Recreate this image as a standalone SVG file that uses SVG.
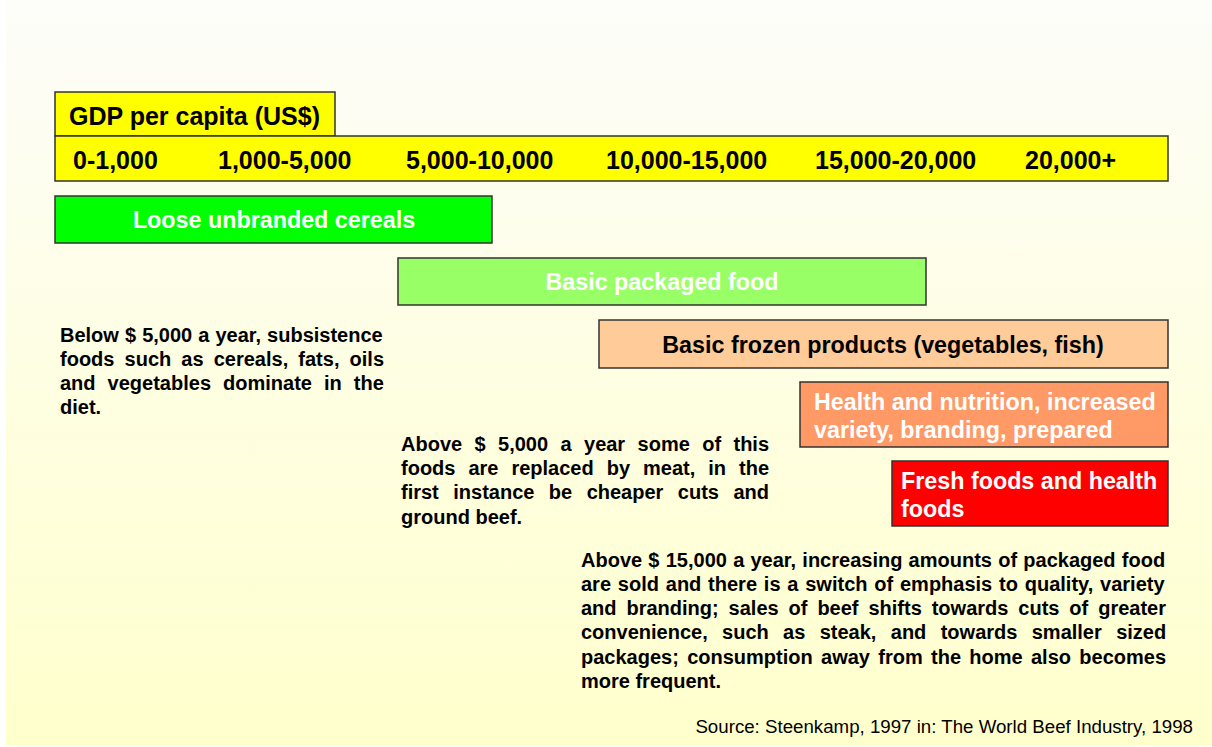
<svg xmlns="http://www.w3.org/2000/svg" width="1212" height="747" viewBox="0 0 1212 747">
  <defs>
    <linearGradient id="bg" x1="0" y1="0" x2="0" y2="1">
      <stop offset="0" stop-color="#FDFDFA"/>
      <stop offset="1" stop-color="#FFFFCC"/>
    </linearGradient>
  </defs>
  <style>
    .box { stroke: #333333; stroke-width: 1.5; }
    .hd { font-family: "Liberation Sans", Arial, sans-serif; font-weight: bold; font-size: 25px; fill: #000; }
    .lbl { font-family: "Liberation Sans", Arial, sans-serif; font-weight: bold; font-size: 23.3px; }
    .w { fill: #FFFFFF; }
    .k { fill: #000000; }
    .body { font-family: "Liberation Sans", Arial, sans-serif; font-weight: bold; font-size: 20px; fill: #000; }
    .src { font-family: "Liberation Sans", Arial, sans-serif; font-size: 18.7px; fill: #000; }
  </style>
  <rect x="0" y="0" width="1212" height="747" fill="#FFFFFF"/>
  <rect x="6" y="0" width="1206" height="746" fill="url(#bg)"/>

  <g id="gdp-header">
    <rect class="box" x="55" y="92" width="280" height="44" fill="#FFFF00"/>
    <text class="hd" x="69" y="125">GDP per capita (US$)</text>
  </g>
  <g id="gdp-ranges">
    <rect class="box" x="55" y="136" width="1113" height="45" fill="#FFFF00"/>
    <text class="hd" x="73" y="169">0-1,000</text>
    <text class="hd" x="218" y="169">1,000-5,000</text>
    <text class="hd" x="406" y="169">5,000-10,000</text>
    <text class="hd" x="606" y="169">10,000-15,000</text>
    <text class="hd" x="815" y="169">15,000-20,000</text>
    <text class="hd" x="1025" y="169">20,000+</text>
  </g>
  <g id="loose-cereals">
    <rect class="box" x="55" y="196" width="437" height="47" fill="#00FF00"/>
    <text class="lbl w" x="274" y="228" text-anchor="middle">Loose unbranded cereals</text>
  </g>
  <g id="basic-packaged">
    <rect class="box" x="398" y="258" width="528" height="47" fill="#99FF66"/>
    <text class="lbl w" x="662" y="290" text-anchor="middle">Basic packaged food</text>
  </g>
  <g id="basic-frozen">
    <rect class="box" x="599" y="320" width="569" height="48" fill="#FFCC99"/>
    <text class="lbl k" x="883" y="353" text-anchor="middle">Basic frozen products (vegetables, fish)</text>
  </g>
  <g id="health-nutrition">
    <rect class="box" x="800" y="382" width="368" height="65" fill="#FF9966"/>
    <text class="lbl w" x="814" y="410">Health and nutrition, increased</text>
    <text class="lbl w" x="814" y="438">variety, branding, prepared</text>
  </g>
  <g id="fresh-foods">
    <rect class="box" x="892" y="461" width="276" height="65" fill="#FF0000"/>
    <text class="lbl w" x="901" y="489">Fresh foods and health</text>
    <text class="lbl w" x="901" y="517">foods</text>
  </g>

  <g id="note-below-5000">
    <text class="body" x="60" y="342" word-spacing="0.5">Below $ 5,000 a year, subsistence</text>
    <text class="body" x="60" y="366" word-spacing="4.56">foods such as cereals, fats, oils</text>
    <text class="body" x="60" y="390" word-spacing="6.5">and vegetables dominate in the</text>
    <text class="body" x="60" y="414">diet.</text>
  </g>
  <g id="note-above-5000">
    <text class="body" x="401" y="451" word-spacing="6.84">Above $ 5,000 a year some of this</text>
    <text class="body" x="401" y="475" word-spacing="7.43">foods are replaced by meat, in the</text>
    <text class="body" x="401" y="499" word-spacing="8.9">first instance be cheaper cuts and</text>
    <text class="body" x="401" y="524">ground beef.</text>
  </g>
  <g id="note-above-15000">
    <text class="body" x="581" y="567" word-spacing="0.68">Above $ 15,000 a year, increasing amounts of packaged food</text>
    <text class="body" x="581" y="591" word-spacing="1.25">are sold and there is a switch of emphasis to quality, variety</text>
    <text class="body" x="581" y="615" word-spacing="4.37">and branding; sales of beef shifts towards cuts of greater</text>
    <text class="body" x="581" y="639" word-spacing="8.8">convenience, such as steak, and towards smaller sized</text>
    <text class="body" x="581" y="664" word-spacing="2.76">packages; consumption away from the home also becomes</text>
    <text class="body" x="581" y="688">more frequent.</text>
  </g>
  <g id="source">
    <text class="src" x="1193" y="733" text-anchor="end">Source: Steenkamp, 1997 in: The World Beef Industry, 1998</text>
  </g>
</svg>
